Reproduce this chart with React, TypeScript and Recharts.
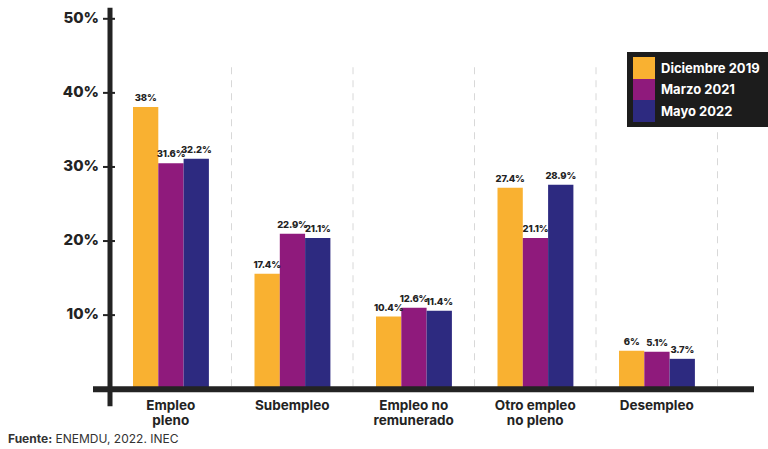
import { BarChart, Bar, XAxis, YAxis, ReferenceLine, LabelList, Legend } from 'recharts'

const categories = ['Empleo\npleno', 'Subempleo', 'Empleo no\nremunerado', 'Otro empleo\nno pleno', 'Desempleo']

// bar heights as drawn in the original (they don't match the printed labels exactly)
const dic2019 = [38.1, 15.6, 9.8, 27.2, 5.2]
const mar2021 = [30.5, 21.0, 11.0, 20.4, 5.05]
const may2022 = [31.1, 20.4, 10.6, 27.6, 4.1]

const dic2019Labels = ['38%', '17.4%', '10.4%', '27.4%', '6%']
const mar2021Labels = ['31.6%', '22.9%', '12.6%', '21.1%', '5.1%']
const may2022Labels = ['32.2%', '21.1%', '11.4%', '28.9%', '3.7%']

const yTicks = [10, 20, 30, 40, 50]

const COLORS = { dic: '#f9b131', mar: '#8f1a7c', may: '#2d2a80' }
const INK = '#232323'
const FONT = 'Inter, "DejaVu Sans", sans-serif'

const data = categories.map((cat, i) => ({
  cat,
  dic: dic2019[i],
  mar: mar2021[i],
  may: may2022[i],
  dicLabel: dic2019Labels[i],
  marLabel: mar2021Labels[i],
  mayLabel: may2022Labels[i],
}))

function YTick({ x, y, payload }: any) {
  return (
    <g>
      <text x={x + 6} y={y} dy={4} textAnchor="end" fontFamily={FONT} fontWeight={800} fontSize={15} fill={INK}>
        {payload.value}%
      </text>
      <line x1={x + 10} x2={x + 22} y1={y} y2={y} stroke={INK} strokeWidth={2} />
    </g>
  )
}

function XTick({ x, y, payload }: any) {
  const lines = String(payload.value).split('\n')
  return (
    <text x={x} y={y} textAnchor="middle" fontFamily={FONT} fontWeight={700} fontSize={13.5} fill={INK}>
      {lines.map((l, i) => (
        <tspan key={i} x={x} dy={i === 0 ? 21 : 15}>
          {l}
        </tspan>
      ))}
    </text>
  )
}

function LegendBox({ payload }: any) {
  return (
    <div style={{ background: '#1c1c1c', padding: '5px 8px 5px 6px', width: 127 }}>
      {(payload || []).map((p: any) => (
        <div key={p.value} style={{ display: 'flex', alignItems: 'center', height: 21.5 }}>
          <div style={{ width: 22, height: 21.5, background: p.color }} />
          <span
            style={{ marginLeft: 6, color: '#fff', fontFamily: FONT, fontWeight: 700, fontSize: 13, whiteSpace: 'nowrap' }}
          >
            {p.value}
          </span>
        </div>
      ))}
    </div>
  )
}

const labelProps = {
  position: 'top' as const,
  offset: 6,
  fontFamily: FONT,
  fontWeight: 800,
  fontSize: 9.5,
  letterSpacing: -0.2,
  fill: INK,
}

export default function App() {
  return (
    <div style={{ position: 'absolute', left: 0, top: 0, width: 768, height: 449, background: '#fff' }}>
      <BarChart
        width={768}
        height={449}
        data={data}
        margin={{ top: 18.8, right: 14, bottom: 19.8, left: 0 }}
        barGap={0}
        barSize={25.3}
      >
        <XAxis
          dataKey="cat"
          padding={{ left: 17, right: 36.5 }}
          height={40}
          tickSize={0}
          tickMargin={0}
          tickLine={false}
          axisLine={{ stroke: INK, strokeWidth: 6 }}
          tick={<XTick />}
          interval={0}
        />
        <YAxis
          domain={[0, 50]}
          ticks={yTicks}
          width={93}
          axisLine={false}
          tickLine={false}
          tickSize={0}
          tickMargin={0}
          tick={<YTick />}
        />
        {categories.map((c) => (
          <ReferenceLine
            key={c}
            position="end"
            segment={[
              { x: c, y: 0.4 },
              { x: c, y: 44 },
            ]}
            stroke="#d8d8d8"
            strokeWidth={1}
            strokeDasharray="7 6"
          />
        ))}
        <Bar dataKey="dic" name="Diciembre 2019" fill={COLORS.dic} isAnimationActive={false}>
          <LabelList dataKey="dicLabel" {...labelProps} />
        </Bar>
        <Bar dataKey="mar" name="Marzo 2021" fill={COLORS.mar} isAnimationActive={false}>
          <LabelList dataKey="marLabel" {...labelProps} />
        </Bar>
        <Bar dataKey="may" name="Mayo 2022" fill={COLORS.may} isAnimationActive={false}>
          <LabelList dataKey="mayLabel" {...labelProps} />
        </Bar>
        <ReferenceLine
          position="start"
          segment={[
            { x: categories[0], y: -2.3 },
            { x: categories[0], y: 51.5 },
          ]}
          stroke={INK}
          strokeWidth={5}
          ifOverflow="visible"
        />
        <Legend
          layout="vertical"
          align="center"
          verticalAlign="middle"
          content={<LegendBox />}
          wrapperStyle={{ left: 627, top: 52, width: 141 }}
        />
      </BarChart>
      <div
        style={{
          position: 'absolute',
          left: 8,
          top: 431,
          fontFamily: FONT,
          fontSize: 12,
          color: '#333',
          whiteSpace: 'nowrap',
        }}
      >
        <b>Fuente:</b> ENEMDU, 2022. INEC
      </div>
    </div>
  )
}
